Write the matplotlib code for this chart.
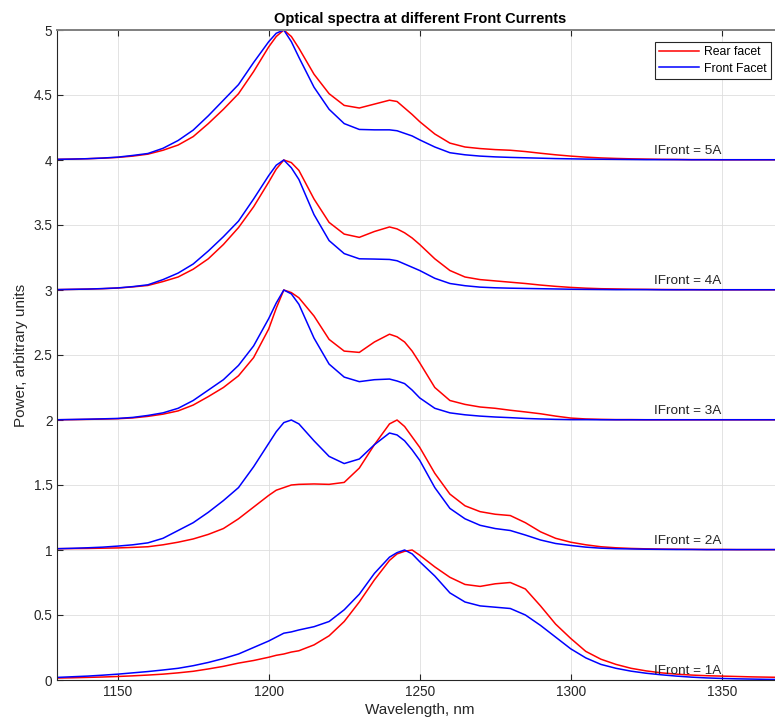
import matplotlib
matplotlib.use("Agg")
import matplotlib.pyplot as plt
import numpy as np
from matplotlib.ticker import FuncFormatter

plt.rcParams["font.family"] = ["Liberation Sans", "DejaVu Sans"]

# wavelength grid (nm)
wavelength = [1130, 1135, 1140, 1145, 1150, 1155, 1160, 1165, 1170, 1175, 1180, 1185, 1190, 1195, 1200,
              1202.5, 1205, 1207.5, 1210,
              1215, 1220, 1225, 1230, 1235, 1240,
              1242.5, 1245, 1247.5,
              1250, 1255, 1260, 1265, 1270, 1275, 1280, 1285, 1290, 1295, 1300, 1305, 1310, 1315,
              1320, 1325, 1330, 1335, 1340, 1345, 1350, 1355, 1360, 1365, 1370]

# normalized spectra
rear_1A = [0.015, 0.017, 0.02, 0.023, 0.027, 0.032, 0.038, 0.045, 0.055, 0.067, 0.085, 0.105, 0.13, 0.15, 0.175,
           0.19, 0.2, 0.215, 0.225,
           0.27, 0.34, 0.45, 0.6, 0.77, 0.92,
           0.97, 0.99, 1.0,
           0.96, 0.87, 0.79, 0.735, 0.72, 0.74, 0.75, 0.7, 0.57, 0.43, 0.32, 0.22, 0.16, 0.12,
           0.09, 0.07, 0.055, 0.045, 0.038, 0.033, 0.03, 0.027, 0.024, 0.022, 0.02]
front_1A = [0.02, 0.025, 0.03, 0.037, 0.045, 0.055, 0.065, 0.077, 0.09, 0.11, 0.135, 0.165, 0.2, 0.25, 0.3,
            0.33, 0.36, 0.37, 0.385,
            0.41, 0.45, 0.54, 0.66, 0.82, 0.945,
            0.98, 1.0, 0.97,
            0.91, 0.8, 0.67, 0.6, 0.57, 0.56, 0.55, 0.5, 0.42, 0.33, 0.24, 0.17, 0.12, 0.09,
            0.068, 0.052, 0.04, 0.03, 0.022, 0.016, 0.012, 0.009, 0.007, 0.005, 0.004]

rear_2A = [0.01, 0.011, 0.012, 0.014, 0.016, 0.02, 0.025, 0.04, 0.06, 0.085, 0.12, 0.165, 0.24, 0.33, 0.42,
           0.46, 0.48, 0.5, 0.505,
           0.508, 0.505, 0.52, 0.63, 0.81, 0.97,
           1.0, 0.95, 0.87,
           0.79, 0.59, 0.43, 0.34, 0.295, 0.275, 0.265, 0.21, 0.14, 0.09, 0.06, 0.04, 0.025, 0.017,
           0.012, 0.009, 0.007, 0.006, 0.005, 0.004, 0.004, 0.003, 0.003, 0.003, 0.003]
front_2A = [0.01, 0.013, 0.017, 0.022, 0.03, 0.04, 0.055, 0.09, 0.15, 0.21, 0.29, 0.38, 0.48, 0.64, 0.82,
            0.91, 0.98, 1.0, 0.97,
            0.84, 0.72, 0.665, 0.7, 0.81, 0.9,
            0.885, 0.84, 0.77,
            0.69, 0.48, 0.32, 0.24, 0.19, 0.165, 0.15, 0.115, 0.077, 0.05, 0.035, 0.022, 0.014, 0.01,
            0.008, 0.006, 0.005, 0.004, 0.004, 0.003, 0.003, 0.003, 0.003, 0.003, 0.003]

rear_3A = [0.002, 0.003, 0.005, 0.007, 0.01, 0.016, 0.028, 0.045, 0.07, 0.115, 0.18, 0.25, 0.34, 0.48, 0.7,
           0.86, 1.0, 0.98, 0.94,
           0.8, 0.62, 0.53, 0.52, 0.6, 0.66,
           0.64, 0.6, 0.53,
           0.44, 0.25, 0.15, 0.12, 0.1, 0.09, 0.075, 0.062, 0.048, 0.03, 0.015, 0.008, 0.005, 0.003,
           0.003, 0.002, 0.002, 0.002, 0.002, 0.002, 0.002, 0.002, 0.002, 0.002, 0.002]
front_3A = [0.002, 0.004, 0.006, 0.009, 0.012, 0.02, 0.035, 0.055, 0.09, 0.15, 0.23, 0.31, 0.42, 0.57, 0.78,
            0.9, 1.0, 0.97, 0.89,
            0.63, 0.43, 0.33, 0.295, 0.31, 0.315,
            0.3, 0.28, 0.23,
            0.17, 0.09, 0.055, 0.04, 0.03, 0.023, 0.018, 0.012, 0.008, 0.005, 0.003, 0.003, 0.002, 0.002,
            0.002, 0.002, 0.002, 0.002, 0.002, 0.002, 0.002, 0.002, 0.002, 0.002, 0.002]

rear_4A = [0.003, 0.005, 0.007, 0.01, 0.015, 0.024, 0.035, 0.065, 0.1, 0.16, 0.24, 0.35, 0.48, 0.64, 0.83,
           0.93, 1.0, 0.98, 0.92,
           0.7, 0.52, 0.43, 0.405, 0.45, 0.485,
           0.47, 0.44, 0.4,
           0.35, 0.24, 0.15, 0.1, 0.08, 0.07, 0.06, 0.05, 0.038, 0.028, 0.02, 0.014, 0.01, 0.008,
           0.006, 0.005, 0.004, 0.003, 0.003, 0.002, 0.002, 0.002, 0.002, 0.002, 0.002]
front_4A = [0.003, 0.005, 0.007, 0.011, 0.016, 0.026, 0.04, 0.08, 0.13, 0.2, 0.3, 0.41, 0.53, 0.7, 0.88,
            0.96, 1.0, 0.94, 0.85,
            0.58, 0.38, 0.28, 0.24, 0.238, 0.235,
            0.225, 0.2, 0.175,
            0.15, 0.09, 0.05, 0.033, 0.022, 0.017, 0.014, 0.012, 0.01, 0.008, 0.006, 0.005, 0.004, 0.003,
            0.003, 0.003, 0.002, 0.002, 0.002, 0.002, 0.002, 0.002, 0.002, 0.002, 0.002]

rear_5A = [0.005, 0.007, 0.01, 0.014, 0.02, 0.03, 0.045, 0.075, 0.115, 0.18, 0.28, 0.39, 0.51, 0.68, 0.87,
           0.95, 1.0, 0.95, 0.86,
           0.66, 0.51, 0.42, 0.4, 0.43, 0.46,
           0.45, 0.4, 0.35,
           0.295, 0.2, 0.13, 0.1, 0.088, 0.08, 0.075, 0.065, 0.052, 0.04, 0.03, 0.022, 0.016, 0.012,
           0.009, 0.007, 0.005, 0.004, 0.003, 0.003, 0.002, 0.002, 0.002, 0.002, 0.002]
front_5A = [0.005, 0.007, 0.01, 0.015, 0.022, 0.035, 0.05, 0.09, 0.15, 0.23, 0.34, 0.46, 0.58, 0.75, 0.91,
            0.975, 1.0, 0.91, 0.79,
            0.56, 0.39, 0.28, 0.235, 0.232, 0.232,
            0.225, 0.205, 0.185,
            0.155, 0.1, 0.056, 0.04, 0.03, 0.024, 0.02, 0.017, 0.014, 0.011, 0.009, 0.007, 0.006, 0.005,
            0.004, 0.003, 0.003, 0.003, 0.002, 0.002, 0.002, 0.002, 0.002, 0.002, 0.002]

currents = ["1A", "2A", "3A", "4A", "5A"]
rear = [rear_1A, rear_2A, rear_3A, rear_4A, rear_5A]
front = [front_1A, front_2A, front_3A, front_4A, front_5A]

fig = plt.figure(figsize=(7.75, 7.27), dpi=100)
ax = fig.add_axes([57.3 / 775, 47 / 727, 724.8 / 775, 650 / 727])

wl = np.array(wavelength)
for i, cur in enumerate(currents):
    ax.plot(wl, np.array(rear[i]) + i, color="#ff0000", lw=1.1,
            label="Rear facet" if i == 0 else None)
    ax.plot(wl, np.array(front[i]) + i, color="#0000ff", lw=1.1,
            label="Front Facet" if i == 0 else None)
    ax.text(1350, i + 0.025, f"IFront = {cur}", ha="right", va="bottom",
            fontsize=9.7, color="#262626")

ax.set_xlim(1130, 1370)
ax.set_ylim(0, 5)
ax.set_xticks([1150, 1200, 1250, 1300, 1350])
ax.set_yticks(np.arange(0, 5.01, 0.5))
ax.yaxis.set_major_formatter(FuncFormatter(lambda v, p: f"{v:g}"))
ax.grid(True, color="#dedede", lw=0.6)
ax.set_axisbelow(True)
ax.tick_params(direction="in", length=4, width=0.8, colors="#262626", labelsize=9.8,
               top=True, right=True, labeltop=False, labelright=False)
for s in ("left", "bottom"):
    ax.spines[s].set_color("#262626")
    ax.spines[s].set_linewidth(0.8)
ax.spines["top"].set_color("#808080")
ax.spines["top"].set_linewidth(1.4)

ax.set_xlabel("Wavelength, nm", fontsize=11, color="#262626", labelpad=3)
ax.set_ylabel("Power, arbitrary units", fontsize=11, color="#262626")
ax.set_title("Optical spectra at different Front Currents", fontsize=10.5,
             fontweight="bold", pad=5)

leg = ax.legend(loc="upper right", bbox_to_anchor=(771 / 775, 685 / 727),
                bbox_transform=fig.transFigure, borderaxespad=0, fontsize=8.8,
                fancybox=False, framealpha=1, handlelength=3.3, handletextpad=0.4,
                borderpad=0.35, labelspacing=0.35)
leg.get_frame().set_edgecolor("#262626")
leg.get_frame().set_linewidth(0.8)

fig.savefig("out.png", dpi=100)
